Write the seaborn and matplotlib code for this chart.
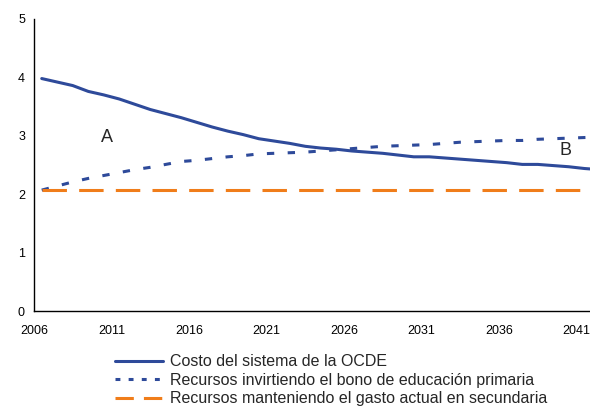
# Costo del sistema vs recursos disponibles (% del PIB)

import matplotlib.pyplot as plt
from matplotlib.lines import Line2D
import seaborn as sns

years = list(range(2006, 2043))

costo_ocde = [3.98, 3.92, 3.86, 3.76, 3.70, 3.63, 3.54, 3.45, 3.38, 3.31,
              3.23, 3.15, 3.08, 3.02, 2.95, 2.91, 2.87, 2.82, 2.79, 2.77,
              2.74, 2.72, 2.70, 2.67, 2.64, 2.64, 2.62, 2.60, 2.58, 2.56,
              2.54, 2.51, 2.51, 2.49, 2.47, 2.44, 2.42]

bono_primaria = [2.07, 2.14, 2.21, 2.27, 2.32, 2.37, 2.42, 2.46, 2.51, 2.56,
                 2.58, 2.61, 2.64, 2.66, 2.69, 2.70, 2.71, 2.72, 2.74, 2.76,
                 2.78, 2.80, 2.82, 2.83, 2.84, 2.85, 2.87, 2.89, 2.90, 2.91,
                 2.92, 2.92, 2.94, 2.95, 2.96, 2.97, 2.98]

gasto_actual = [2.07] * 36  # 2006-2041

labels = ["Costo del sistema de la OCDE",
          "Recursos invirtiendo el bono de educación primaria",
          "Recursos manteniendo el gasto actual en secundaria"]

tick_labels = ["2006", "2011", "2016", "2021", "2026", "2031", "2036", "2041"]
yticks = [0, 1, 2, 3, 4, 5]

blue = "#2E4A9A"
orange = "#F07D1A"

sns.set_style("white")
plt.rcParams['font.family'] = ['Liberation Sans', 'DejaVu Sans']

fig = plt.figure(figsize=(5.9, 4.09), dpi=100)
ax = fig.add_axes([0.0576, 0.2396, 0.9424, 0.714])

sns.lineplot(x=years, y=costo_ocde, ax=ax, color=blue, linewidth=2.2,
             legend=False)
sns.lineplot(x=years, y=bono_primaria, ax=ax, color=blue, linewidth=2.2,
             linestyle=(0, (2.4, 4.4)), legend=False)
sns.lineplot(x=years[:len(gasto_actual)], y=gasto_actual, ax=ax, color=orange,
             linewidth=2.2, linestyle=(0, (8, 4)), legend=False)

# excel-style category axis: ticks between years
ax.set_xlim(2005.5, 2041.37)
ax.set_ylim(0, 5)
ax.set_xticks([int(t) - 0.5 for t in tick_labels])
ax.set_xticklabels(tick_labels)
ax.set_yticks(yticks)
ax.tick_params(axis='both', direction='out', width=1, labelsize=9,
               color='black', labelcolor='black')
ax.tick_params(axis='x', length=4, pad=6)
ax.tick_params(axis='y', length=3, pad=3.5)
sns.despine(ax=ax, top=True, right=True)
for s in ['left', 'bottom']:
    ax.spines[s].set_color('black')
    ax.spines[s].set_linewidth(1)
ax.set_xlabel("")
ax.set_ylabel("")

ax.text(2010.2, 2.97, "A", fontsize=13, ha='center', va='center')
ax.text(2039.8, 2.75, "B", fontsize=13, ha='center', va='center')

handles = [
    Line2D([], [], color=blue, linewidth=2.2),
    Line2D([], [], color=blue, linewidth=2.2, linestyle=(0, (1.6, 2.7))),
    Line2D([], [], color=orange, linewidth=2.2, linestyle=(0, (6, 3.3))),
]
fig.legend(handles, labels, loc='upper left', bbox_to_anchor=(0.195, 0.134),
           frameon=False, fontsize=11.5, handlelength=3.0,
           handletextpad=0.45, labelspacing=0.22, borderaxespad=0,
           borderpad=0)

plt.savefig("out.png", dpi=100)
plt.close()
